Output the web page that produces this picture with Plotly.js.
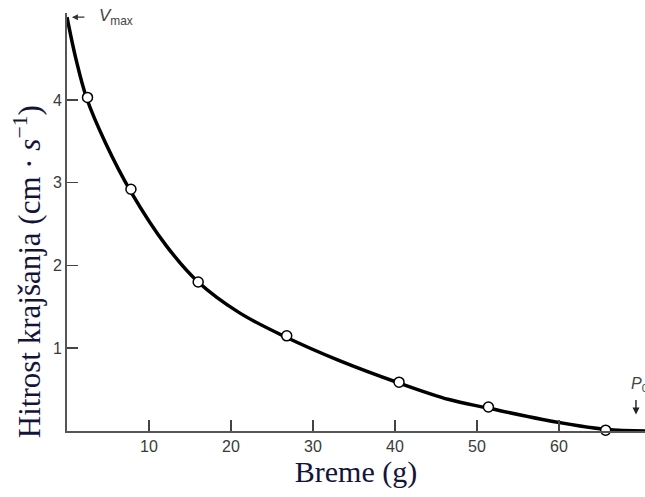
<!DOCTYPE html>
<html>
<head>
<meta charset="utf-8">
<script src="https://cdn.plot.ly/plotly-3.0.1.min.js"></script>
<style>
  html, body { margin: 0; padding: 0; background: #fff; }
  #chart { width: 645px; height: 497px; }
</style>
</head>
<body>
<div id="chart"></div>
<script>
// Measured points (load in g, shortening velocity in cm/s)
const loadG = [2.5, 7.8, 16.0, 26.8, 40.5, 51.4, 65.7];
const velocity = [4.03, 2.92, 1.80, 1.15, 0.59, 0.29, 0.01];

// Fitted curve
const curveLoad = [0, 1.1, 2.4, 4.7, 7.8, 12.1, 16.0, 21.0, 26.8, 33.0, 40.5, 46.6, 51.2, 58.0, 65.7, 70.5];
const curveVel  = [5.0, 4.49, 4.02, 3.48, 2.89, 2.24, 1.80, 1.43, 1.13, 0.86, 0.58, 0.38, 0.28, 0.14, 0.02, 0.0];

// Axis ticks
const xTicks = [10, 20, 30, 40, 50, 60];
const yTicks = [1, 2, 3, 4];

const traces = [
  {
    x: curveLoad, y: curveVel, type: 'scatter', mode: 'lines',
    line: { color: '#000', width: 3.5, shape: 'spline', smoothing: 1 },
    hoverinfo: 'skip', cliponaxis: false
  },
  {
    x: loadG, y: velocity, type: 'scatter', mode: 'markers',
    marker: { symbol: 'circle', size: 10, color: '#fff', line: { color: '#000', width: 1.5 } },
    cliponaxis: false
  }
];

const tickFont = { family: 'Liberation Sans, Arial, sans-serif', size: 16, color: '#3a3a3a' };
const serif = 'Liberation Serif, Times New Roman, serif';

const layout = {
  width: 645, height: 497,
  margin: { l: 67, r: 0, t: 13, b: 66 },
  paper_bgcolor: '#fff', plot_bgcolor: '#fff',
  showlegend: false,
  xaxis: {
    range: [0, 70.5], showgrid: false, zeroline: false,
    showline: true, linecolor: '#555', linewidth: 2,
    ticks: 'inside', ticklen: 11, tickwidth: 1.5, tickcolor: '#444',
    tickvals: xTicks, ticktext: xTicks.map(String),
    tickfont: tickFont,
    title: { text: 'Breme (g)', font: { family: serif, size: 30, color: '#14143a' }, standoff: 5 }
  },
  yaxis: {
    range: [0, 5.05], showgrid: false, zeroline: false,
    showline: true, linecolor: '#555', linewidth: 2,
    ticks: 'inside', ticklen: 11, tickwidth: 1.5, tickcolor: '#444',
    tickvals: yTicks, ticktext: yTicks.map(String),
    tickfont: tickFont
  },
  annotations: [
    { xref: 'paper', yref: 'paper', x: 0, y: 0.38, xshift: -40, textangle: -90,
      text: 'Hitrost krajšanja (cm · <i>s</i><sup>−1</sup>)', showarrow: false,
      xanchor: 'center', yanchor: 'middle',
      font: { family: serif, size: 31, color: '#14143a' } },
    { x: 0.6, y: 5.0, xref: 'x', yref: 'y', text: '', showarrow: true,
      ax: 14, ay: 0, arrowhead: 2, arrowsize: 1, arrowwidth: 1.2, arrowcolor: '#333' },
    { x: 3.6, y: 5.0, xref: 'x', yref: 'y', text: '<i>V</i><sub>max</sub>', showarrow: false,
      xanchor: 'left', yanchor: 'middle', font: { family: 'Liberation Sans, Arial, sans-serif', size: 17, color: '#444' } },
    { x: 69.4, y: 0.2, xref: 'x', yref: 'y', text: '', showarrow: true,
      ax: 0, ay: -16, arrowhead: 2, arrowsize: 1, arrowwidth: 1.4, arrowcolor: '#222' },
    { x: 68.6, y: 0.42, xref: 'x', yref: 'y', text: '<i>P</i><sub>0</sub>', showarrow: false,
      xanchor: 'left', yanchor: 'bottom', font: { family: 'Liberation Sans, Arial, sans-serif', size: 16, color: '#444' } }
  ]
};

Plotly.newPlot('chart', traces, layout, { displayModeBar: false, staticPlot: true });
</script>
</body>
</html>
